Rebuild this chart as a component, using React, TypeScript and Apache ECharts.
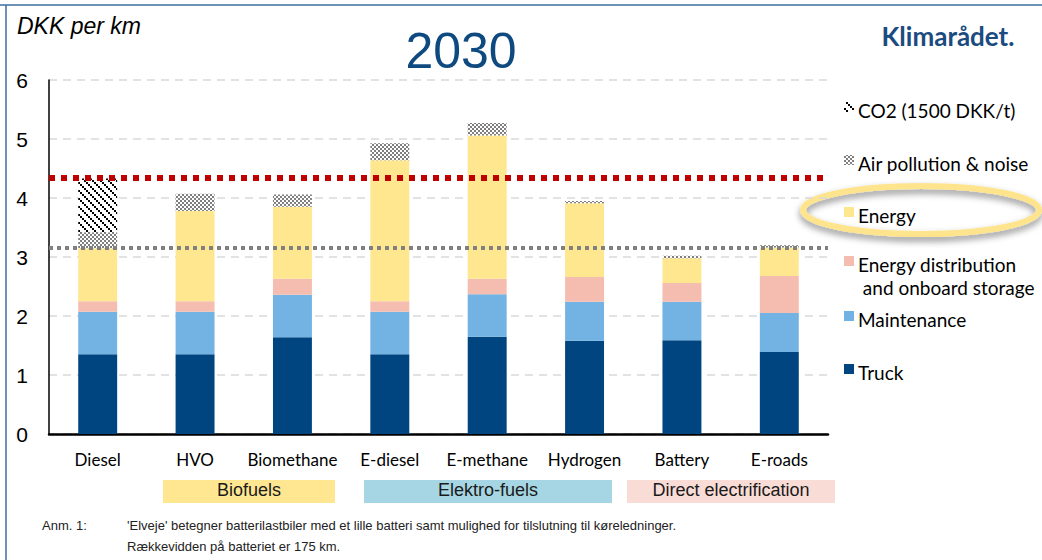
import React, { useEffect, useRef } from "react";
import * as echarts from "echarts";

const categories = ["Diesel", "HVO", "Biomethane", "E-diesel", "E-methane", "Hydrogen", "Battery", "E-roads"];
const truck = [1.35, 1.35, 1.64, 1.35, 1.65, 1.58, 1.59, 1.39];
const maintenance = [0.72, 0.72, 0.72, 0.72, 0.72, 0.66, 0.65, 0.66];
const energyDistribution = [0.18, 0.18, 0.27, 0.18, 0.26, 0.42, 0.32, 0.63];
const energy = [0.9, 1.53, 1.22, 2.39, 2.43, 1.25, 0.42, 0.48];
const airPollution = [0.27, 0.29, 0.21, 0.29, 0.21, 0.04, 0.04, 0.04];
const co2 = [0.91, 0, 0, 0, 0, 0, 0, 0];
const yTicks = [0, 1, 2, 3, 4, 5, 6];
const refLineRed = 4.35;
const refLineGray = 3.15;
const seriesNames = ["Truck", "Maintenance", "Energy distribution\n and onboard storage", "Energy", "Air pollution & noise", "CO2 (1500 DKK/t)"];
const groupLabels = ["Biofuels", "Elektro-fuels", "Direct electrification"];
const noteLabel = "Anm. 1:";
const noteLines = [
  "'Elveje' betegner batterilastbiler med et lille batteri samt mulighed for tilslutning til køreledninger.",
  "Rækkevidden på batteriet er 175 km.",
];

function makeChecker() {
  const c = document.createElement("canvas");
  c.width = 4;
  c.height = 4;
  const ctx = c.getContext("2d")!;
  ctx.fillStyle = "#ffffff";
  ctx.fillRect(0, 0, 4, 4);
  ctx.fillStyle = "#7f7f7f";
  ctx.fillRect(0, 0, 2, 2);
  ctx.fillRect(2, 2, 2, 2);
  return c;
}

function makeDiag() {
  const c = document.createElement("canvas");
  c.width = 8;
  c.height = 8;
  const ctx = c.getContext("2d")!;
  ctx.fillStyle = "#ffffff";
  ctx.fillRect(0, 0, 8, 8);
  ctx.fillStyle = "#000000";
  for (let i = 0; i < 8; i += 1) {
    if (i % 2 === 0) ctx.fillRect(i, i, 2, 2);
  }
  return c;
}

export default function App() {
  const ref = useRef<HTMLDivElement>(null);
  useEffect(() => {
    if (!ref.current) return;
    const chart = echarts.init(ref.current, null, { renderer: "svg" });
    const checker = { image: makeChecker(), repeat: "repeat" };
    const diag = { image: makeDiag(), repeat: "repeat" };
    const colors = ["#00457f", "#72b3e4", "#f5bdaf", "#ffe78f", checker, diag];
    const values = [truck, maintenance, energyDistribution, energy, airPollution, co2];

    const series: any[] = values.map((d, i) => ({
      type: "bar",
      name: seriesNames[i],
      stack: "total",
      data: d,
      barWidth: "40%",
      itemStyle: { color: colors[i] },
      emphasis: { disabled: true },
      silent: true,
    }));
    series[0].markLine = {
      silent: true,
      symbol: "none",
      label: { show: false },
      data: [
        { yAxis: refLineRed, lineStyle: { color: "#c00000", width: 6, type: [6, 6] } },
        { yAxis: refLineGray, lineStyle: { color: "#808080", width: 4, type: [4, 4] } },
      ],
    };

    const font = "Lato, 'Open Sans', sans-serif";
    const arial = "'Liberation Sans', Arial, sans-serif";

    const legendRows = [
      { idx: 5, y: 110 },
      { idx: 4, y: 163 },
      { idx: 3, y: 215 },
      { idx: 2, y: 264 },
      { idx: 1, y: 319 },
      { idx: 0, y: 372 },
    ];
    const legendGraphics: any[] = [];
    legendRows.forEach((r) => {
      legendGraphics.push({
        type: "rect",
        shape: { x: 844, y: r.y - 8, width: 10, height: 10 },
        style: { fill: colors[r.idx] as any },
        silent: true,
      });
      const lines = seriesNames[r.idx].split("\n");
      lines.forEach((ln, j) => {
        legendGraphics.push({
          type: "text",
          x: 858,
          y: r.y + j * 23,
          style: {
            text: ln,
            font: `19px ${font}`,
            fill: "#000",
            verticalAlign: "middle",
          },
          silent: true,
        });
      });
    });

    const boxes = [
      { x: 163, w: 172, fill: "#ffe792" },
      { x: 364, w: 248, fill: "#a6d6e3" },
      { x: 627, w: 208, fill: "#f9dcd6" },
    ];
    const boxGraphics: any[] = [];
    boxes.forEach((b, i) => {
      boxGraphics.push({
        type: "rect",
        shape: { x: b.x, y: 480, width: b.w, height: 23 },
        style: { fill: b.fill },
        silent: true,
      });
      boxGraphics.push({
        type: "text",
        x: b.x + b.w / 2,
        y: 490,
        style: { text: groupLabels[i], font: `18px ${arial}`, fill: "#1a1a1a", align: "center", verticalAlign: "middle" },
        silent: true,
      });
    });

    chart.setOption({
      animation: false,
      backgroundColor: "#ffffff",
      grid: { left: 49, right: 214, top: 80, bottom: 126, containLabel: false },
      xAxis: {
        type: "category",
        data: categories,
        axisLine: { show: true, lineStyle: { color: "#000", width: 2.5 } },
        axisTick: { show: false },
        axisLabel: { color: "#000", fontFamily: font, fontSize: 17, margin: 17, interval: 0 },
      },
      yAxis: {
        type: "value",
        min: yTicks[0],
        max: yTicks[yTicks.length - 1],
        interval: 1,
        axisLine: { show: true, lineStyle: { color: "#000", width: 1.5 } },
        axisTick: { show: false },
        axisLabel: { color: "#000", fontFamily: arial, fontSize: 21, margin: 21 },
        splitLine: { show: true, lineStyle: { color: "#d9d9d9", width: 1.5, type: [8, 6] } },
      },
      series,
      graphic: [
        { type: "line", shape: { x1: 0, y1: 5, x2: 1042, y2: 5 }, style: { stroke: "#3c6e9f", lineWidth: 1.5 }, silent: true },
        { type: "line", shape: { x1: 6, y1: 5, x2: 6, y2: 560 }, style: { stroke: "#3c6e9f", lineWidth: 1.5 }, silent: true },
        {
          type: "text",
          x: 17,
          y: 26,
          style: { text: "DKK per km", font: `italic 23px ${arial}`, fill: "#000", verticalAlign: "middle" },
          silent: true,
        },
        {
          type: "text",
          x: 461,
          y: 51,
          style: { text: "2030", font: `50px ${arial}`, fill: "#0e4a80", align: "center", verticalAlign: "middle" },
          silent: true,
        },
        {
          type: "text",
          x: 948,
          y: 36,
          style: { text: "Klimarådet.", font: `bold 26px ${font}`, fill: "#1b4b7f", align: "center", verticalAlign: "middle" },
          silent: true,
        },
        {
          type: "ellipse",
          shape: { cx: 921, cy: 210, rx: 118, ry: 24 },
          style: {
            fill: "none",
            stroke: "#fee48c",
            lineWidth: 6,
            shadowColor: "rgba(0,0,0,0.45)",
            shadowBlur: 7,
            shadowOffsetY: 4,
          },
          silent: true,
        },
        ...legendGraphics,
        ...boxGraphics,
        {
          type: "text",
          x: 42,
          y: 525,
          style: { text: noteLabel, font: `13px ${arial}`, fill: "#222", verticalAlign: "middle" },
          silent: true,
        },
        {
          type: "text",
          x: 127,
          y: 525,
          style: { text: noteLines[0], font: `13px ${arial}`, fill: "#222", verticalAlign: "middle" },
          silent: true,
        },
        {
          type: "text",
          x: 127,
          y: 546,
          style: { text: noteLines[1], font: `13px ${arial}`, fill: "#222", verticalAlign: "middle" },
          silent: true,
        },
      ],
    });
    return () => chart.dispose();
  }, []);
  return <div ref={ref} style={{ position: "fixed", left: 0, top: 0, width: 1042, height: 560 }} />;
}
